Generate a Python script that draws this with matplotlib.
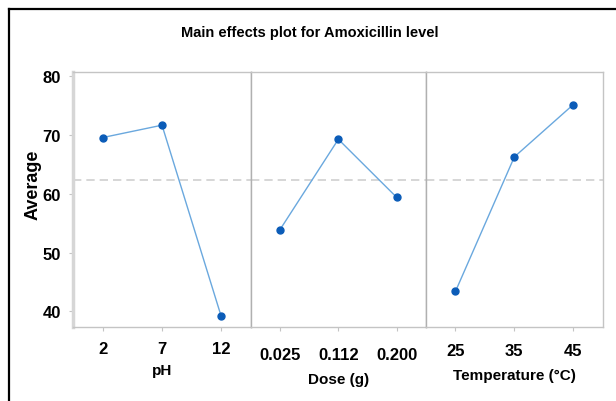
import matplotlib
matplotlib.use("Agg")
import matplotlib.pyplot as plt
from matplotlib.lines import Line2D

plt.rcParams['font.family'] = ['Liberation Sans Narrow', 'Liberation Sans', 'DejaVu Sans']
plt.rcParams['font.weight'] = 'bold'

# factor levels and mean response at each level
ph_levels = ["2", "7", "12"]
ph_means = [69.6, 71.7, 39.2]
dose_levels = ["0.025", "0.112", "0.200"]
dose_means = [53.9, 69.3, 59.4]
temp_levels = ["25", "35", "45"]
temp_means = [43.4, 66.3, 75.2]
factor_names = ["pH", "Dose (g)", "Temperature (°C)"]
grand_mean = 62.4

W, H = 616, 402
fig = plt.figure(figsize=(W / 100, H / 100), dpi=100)
fig.patch.set_facecolor("white")

# black frame on left and top of the figure
fig.add_artist(Line2D([9 / W, 9 / W], [0, 1 - 10 / H], color="black", lw=1.6))
fig.add_artist(Line2D([9 / W, 1], [1 - 10 / H, 1 - 10 / H], color="black", lw=1.6))

fig.text(310 / W, 1 - 33 / H, "Main effects plot for Amoxicillin level",
         ha="center", va="center", fontsize=10.5, fontweight="bold")

edges = [73.3, 250.7, 426.0, 602.7]
top, bottom = 73.3, 328.3
panels = [(ph_levels, ph_means), (dose_levels, dose_means), (temp_levels, temp_means)]
label_y = [371, 380, 376]
tick_pad = [7, 11, 8]

spine_col = "#c4c4c4"
for i, (levels, means) in enumerate(panels):
    ax = fig.add_axes([edges[i] / W, 1 - bottom / H,
                       (edges[i + 1] - edges[i]) / W, (bottom - top) / H])
    x = list(range(1, len(levels) + 1))
    ax.axhline(grand_mean, color="#cfcfcf", lw=1.2, ls=(0, (5, 3)), zorder=1)
    ax.plot(x, means, color="#6aa8de", lw=1.0, zorder=2)
    ax.plot(x, means, "o", color="#0b5cb8", ms=5, zorder=3)
    ax.set_xlim(0.5, 3.5)
    ax.set_ylim(37.3, 80.7)
    ax.set_xticks(x)
    ax.set_xticklabels(levels, fontsize=12, fontweight="bold")
    ax.tick_params(axis="x", length=3, color=spine_col, pad=tick_pad[i])
    for s in ax.spines.values():
        s.set_color(spine_col)
        s.set_linewidth(1.0)
    if i == 0:
        ax.set_yticks([40, 50, 60, 70, 80])
        ax.tick_params(axis="y", length=3, color=spine_col, labelsize=12, pad=6)
        ax.spines["left"].set_linewidth(2.5)
        ax.spines["left"].set_color("#d6d6d6")
    else:
        ax.set_yticks([])
        ax.spines["left"].set_color("#b0b0b0")
    if i < 2:
        ax.spines["right"].set_color("#b0b0b0")
    fig.text((edges[i] + edges[i + 1]) / 2 / W, 1 - label_y[i] / H, factor_names[i],
             ha="center", va="center", fontsize=11, fontweight="bold")

fig.text(33 / W, 1 - 185 / H, "Average", rotation=90, ha="center", va="center",
         fontsize=13, fontweight="bold")

fig.savefig("out.png", dpi=100)
